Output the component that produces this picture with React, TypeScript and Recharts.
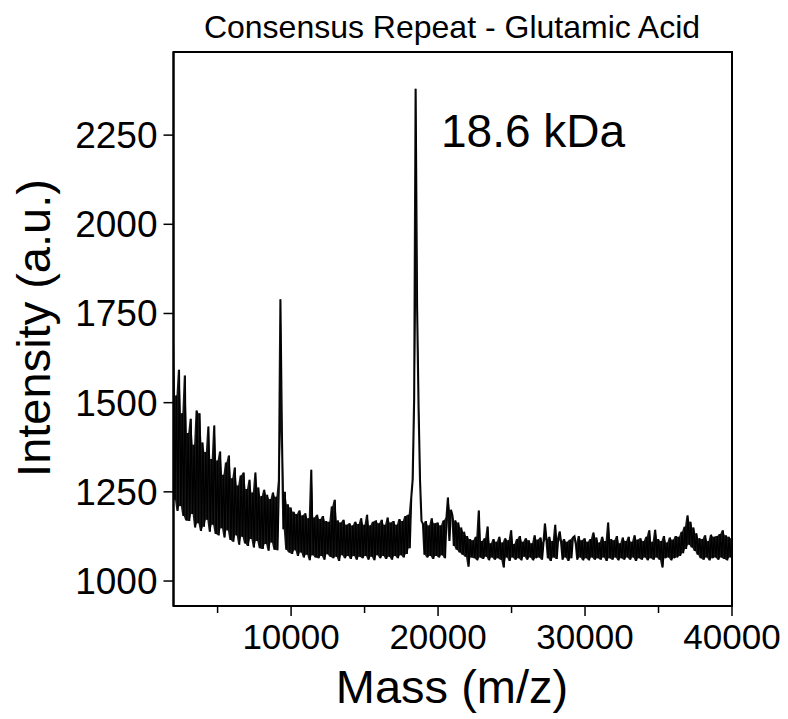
import React from 'react';
import { ComposedChart, Line, Area, XAxis, YAxis, ReferenceArea } from 'recharts';

const intensity = [
  1660, 1228, 1520, 1196, 1592, 1210, 1470, 1182, 1576, 1170,
  1415, 1168, 1455, 1188, 1382, 1150, 1478, 1162, 1470, 1140,
  1388, 1152, 1362, 1172, 1433, 1138, 1342, 1158, 1436, 1132,
  1338, 1128, 1363, 1148, 1298, 1122, 1332, 1142, 1352, 1115,
  1288, 1110, 1318, 1128, 1268, 1102, 1296, 1124, 1304, 1105,
  1258, 1098, 1284, 1118, 1248, 1094, 1304, 1112, 1262, 1092,
  1238, 1090, 1256, 1104, 1242, 1085, 1230, 1108, 1248, 1088,
  1236, 1086, 1282, 1790, 1420, 1145, 1250, 1088, 1215, 1080,
  1206, 1076, 1194, 1086, 1188, 1070, 1198, 1080, 1184, 1066,
  1190, 1074, 1176, 1058, 1312, 1072, 1178, 1066, 1186, 1064,
  1174, 1070, 1182, 1060, 1168, 1075, 1166, 1068, 1209, 1064,
  1228, 1068, 1170, 1056, 1164, 1072, 1172, 1064, 1158, 1070,
  1162, 1062, 1156, 1070, 1166, 1060, 1160, 1068, 1176, 1064,
  1158, 1070, 1186, 1060, 1156, 1068, 1166, 1058, 1170, 1072,
  1162, 1064, 1172, 1070, 1158, 1062, 1178, 1068, 1164, 1060,
  1168, 1070, 1158, 1064, 1174, 1072, 1168, 1066, 1182, 1076,
  1186, 1092, 1232, 1285, 1510, 2380, 1770, 1490, 1282, 1168,
  1160, 1074, 1168, 1066, 1156, 1070, 1176, 1062, 1162, 1070,
  1164, 1066, 1156, 1072, 1170, 1064, 1178, 1234, 1112, 1200,
  1185, 1098, 1170, 1088, 1164, 1080, 1150, 1074, 1138, 1068,
  1126, 1040, 1118, 1066, 1114, 1064, 1124, 1058, 1198, 1066,
  1112, 1062, 1120, 1068, 1153, 1058, 1106, 1066, 1118, 1060,
  1110, 1064, 1124, 1060, 1108, 1038, 1120, 1066, 1114, 1056,
  1142, 1066, 1104, 1060, 1118, 1064, 1126, 1058, 1110, 1068,
  1120, 1060, 1114, 1066, 1106, 1058, 1128, 1064, 1116, 1066,
  1122, 1060, 1108, 1161, 1116, 1064, 1124, 1056, 1112, 1066,
  1158, 1062, 1120, 1139, 1108, 1060, 1118, 1066, 1110, 1056,
  1116, 1064, 1122, 1127, 1104, 1060, 1126, 1066, 1114, 1058,
  1120, 1064, 1110, 1058, 1118, 1066, 1136, 1060, 1122, 1064,
  1108, 1060, 1124, 1066, 1112, 1056, 1164, 1064, 1118, 1060,
  1114, 1066, 1126, 1058, 1106, 1064, 1122, 1060, 1112, 1066,
  1124, 1060, 1110, 1066, 1128, 1056, 1116, 1064, 1120, 1060,
  1112, 1066, 1124, 1058, 1142, 1064, 1110, 1060, 1144, 1066,
  1118, 1060, 1112, 1038, 1126, 1064, 1108, 1066, 1122, 1058,
  1116, 1064, 1126, 1066, 1124, 1070, 1138, 1078, 1152, 1090,
  1184, 1102, 1166, 1094, 1150, 1084, 1134, 1074, 1120, 1064,
  1118, 1060, 1128, 1066, 1112, 1058, 1130, 1064, 1124, 1066,
  1126, 1060, 1132, 1066, 1142, 1062, 1128, 1058, 1124, 1066,
  1120,
];

const massTicks = [5000, 10000, 15000, 20000, 25000, 30000, 35000, 40000];
const intensityTicks = [1000, 1250, 1500, 1750, 2000, 2250];

// each point carries the trace value plus the noise band spanned by its neighbour
const data = intensity.map((v, i) => {
  const next = i + 1 < intensity.length ? intensity[i + 1] : v;
  return {
    mass: 2000 + i * 100,
    intensity: v,
    band: [Math.min(v, next), Math.max(v, next)],
  };
});

const FONT = '"Liberation Sans", Arial, sans-serif';

const XTick = (props: any) => {
  const { x, y, payload } = props;
  const major = payload.value % 10000 === 0;
  return (
    <g>
      <line x1={x} x2={x} y1={y} y2={y + (major ? 10 : 7)} stroke="#000" strokeWidth={1.5} />
      {major && (
        <text x={x} y={y + 43} textAnchor="middle" fontSize={35} fontFamily={FONT} fill="#000">
          {payload.value}
        </text>
      )}
    </g>
  );
};

const YTick = (props: any) => {
  const { x, y, payload } = props;
  return (
    <g>
      <line x1={x - 10} x2={x} y1={y} y2={y} stroke="#000" strokeWidth={1.5} />
      <text x={x - 16} y={y + 13} textAnchor="end" fontSize={37} fontFamily={FONT} fill="#000">
        {payload.value}
      </text>
    </g>
  );
};

export default function App() {
  return (
    <div style={{ position: 'relative', width: 780, height: 711 }}>
      <ComposedChart
        width={780}
        height={711}
        data={data}
        margin={{ top: 44, right: 56, bottom: 53, left: 65.5 }}
      >
        <XAxis
          dataKey="mass"
          type="number"
          domain={[2000, 40000]}
          ticks={massTicks}
          allowDataOverflow
          height={60}
          tickSize={0}
          tickMargin={0}
          tick={<XTick />}
          axisLine={{ stroke: '#000', strokeWidth: 2 }}
          interval={0}
        />
        <YAxis
          type="number"
          domain={[930, 2483]}
          ticks={intensityTicks}
          allowDataOverflow
          width={100}
          tickSize={0}
          tickMargin={0}
          tick={<YTick />}
          axisLine={{ stroke: '#000', strokeWidth: 2 }}
          interval={0}
        />
        <Area
          type="linear"
          dataKey="band"
          stroke="none"
          fill="#000"
          fillOpacity={0.9}
          isAnimationActive={false}
        />
        <Line
          type="linear"
          dataKey="intensity"
          stroke="#000"
          strokeWidth={1.3}
          dot={false}
          isAnimationActive={false}
        />
        <ReferenceArea
          x1={2000}
          x2={40000}
          y1={930}
          y2={2483}
          fill="none"
          stroke="#000"
          strokeWidth={2}
          ifOverflow="visible"
        />
      </ComposedChart>
      <svg
        width={780}
        height={711}
        style={{ position: 'absolute', left: 0, top: 0, pointerEvents: 'none' }}
      >
        <g transform="translate(-8,-8)" fontFamily={FONT} fill="#000">
          <text x={452} y={38} textAnchor="middle" fontSize={32}>
            Consensus Repeat - Glutamic Acid
          </text>
          <text x={441} y={147} fontSize={46}>
            18.6 kDa
          </text>
          <text x={452} y={703} textAnchor="middle" fontSize={47}>
            Mass (m/z)
          </text>
          <text x={50} y={328} textAnchor="middle" fontSize={47} transform="rotate(-90 50 328)">
            Intensity (a.u.)
          </text>
        </g>
      </svg>
    </div>
  );
}
